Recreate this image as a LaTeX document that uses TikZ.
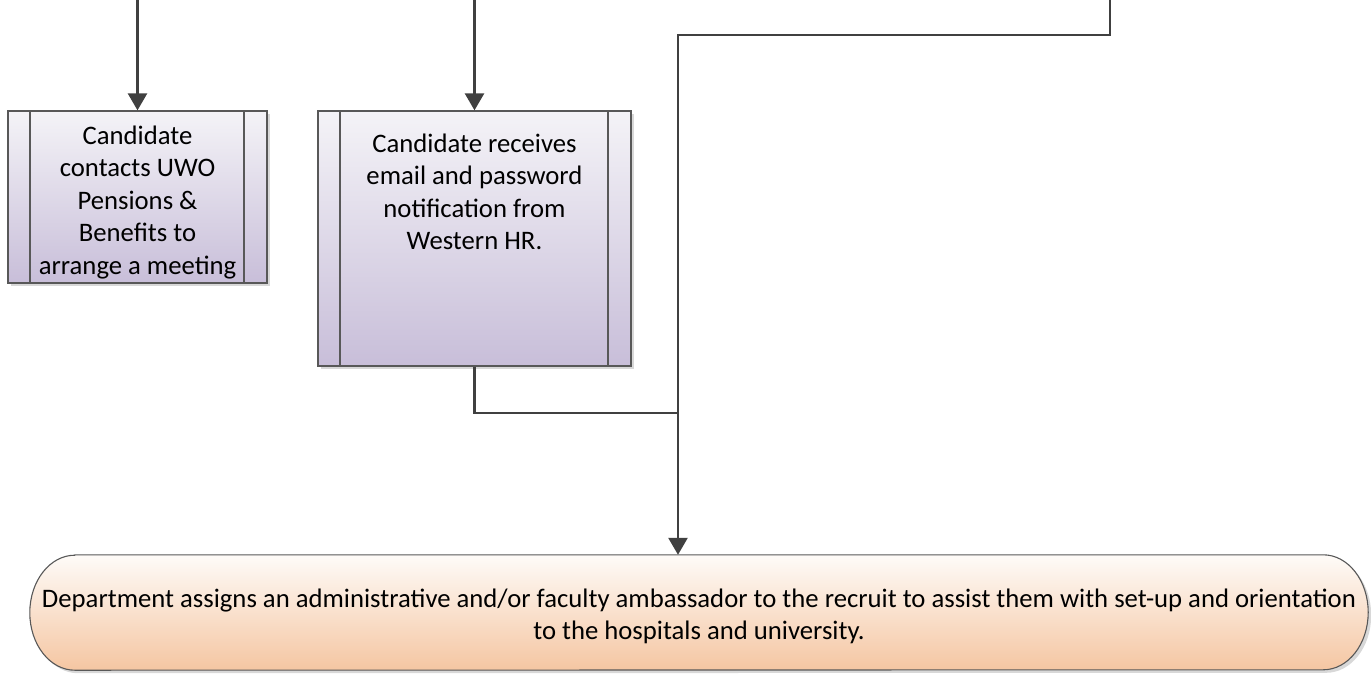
\documentclass[tikz,border=0pt]{standalone}
\usepackage{fontspec}
\setmainfont{Carlito}
\usetikzlibrary{arrows.meta,shadows,backgrounds}

\definecolor{linegray}{RGB}{64,64,64}
\definecolor{edgegray}{RGB}{88,88,88}
\definecolor{procTop}{RGB}{244,243,247}
\definecolor{procBottom}{RGB}{200,190,217}
\definecolor{termTop}{RGB}{254,251,248}
\definecolor{termBottom}{RGB}{245,198,162}

\tikzset{
  diagram text/.style={font=\fontsize{26.7pt}{32.5pt}\selectfont, text=black},
  subprocess/.style={diagram text, draw=edgegray, line width=1.3pt,
    top color=procTop, bottom color=procBottom, inner sep=0pt, align=center,
    drop shadow={shadow xshift=3pt, shadow yshift=-3pt, fill=black!30, opacity=0.5},
    path picture={
      \draw[edgegray, line width=1.1pt]
        ([xshift=22pt]path picture bounding box.north west) -- ([xshift=22pt]path picture bounding box.south west);
      \draw[edgegray, line width=1.1pt]
        ([xshift=-23pt]path picture bounding box.north east) -- ([xshift=-23pt]path picture bounding box.south east);
    }},
  terminal/.style={diagram text, inner sep=0pt, align=center, minimum width=1338pt, minimum height=115pt},
  terminal shape/.style={draw=edgegray, line width=1.1pt, top color=termTop, bottom color=termBottom,
    drop shadow={shadow xshift=3pt, shadow yshift=-3pt, fill=black!30, opacity=0.5}},
  link/.style={draw=linegray, line width=2.6pt},
  flow/.style={link, -{Triangle[width=19pt,length=17pt]}},
}

\begin{document}
\begin{tikzpicture}[x=1pt, y=1pt]
  \useasboundingbox (0,0) rectangle (1371,-673);

  % process boxes
  \node[subprocess, minimum width=259pt, minimum height=172pt] (contact) at (137.5,-197)
    {\parbox[c][143pt][t]{216pt}{\centering Candidate\\contacts UWO\\Pensions \&\\Benefits to\\arrange a meeting}};
  \node[subprocess, minimum width=313pt, minimum height=255pt] (notify) at (474.5,-238.5)
    {\parbox[c][210pt][t]{260pt}{\centering Candidate receives\\email and password\\notification from\\Western HR.}};

  % terminal
  \node[terminal] (assign) at (699,-612.5)
    {\parbox[c][48pt][t]{1338pt}{\centering Department assigns an administrative and/or faculty ambassador to the recruit to assist them with set-up and orientation\\to the hospitals and university.}};
  \begin{scope}[on background layer]
    \path[terminal shape] ([xshift=45pt]assign.north west) -- ([xshift=-45pt]assign.north east)
      arc[start angle=90, end angle=-90, x radius=45pt, y radius=57.5pt]
      -- ([xshift=45pt]assign.south west)
      arc[start angle=270, end angle=90, x radius=45pt, y radius=57.5pt] -- cycle;
  \end{scope}

  % connectors
  \coordinate (feedA) at (137.5,0);
  \coordinate (feedB) at (474.5,0);
  \coordinate (feedC) at (1110,0);
  \coordinate (bend) at (678,-35);
  \coordinate (merge) at (678,-413);
  \draw[flow] (feedA) -- (contact.north);
  \draw[flow] (feedB) -- (notify.north);
  \draw[link] (feedC) |- (bend) -- (merge);
  \draw[link] (notify.south) |- (merge);
  \draw[flow] (merge) -- (merge |- assign.north);
\end{tikzpicture}
\end{document}
